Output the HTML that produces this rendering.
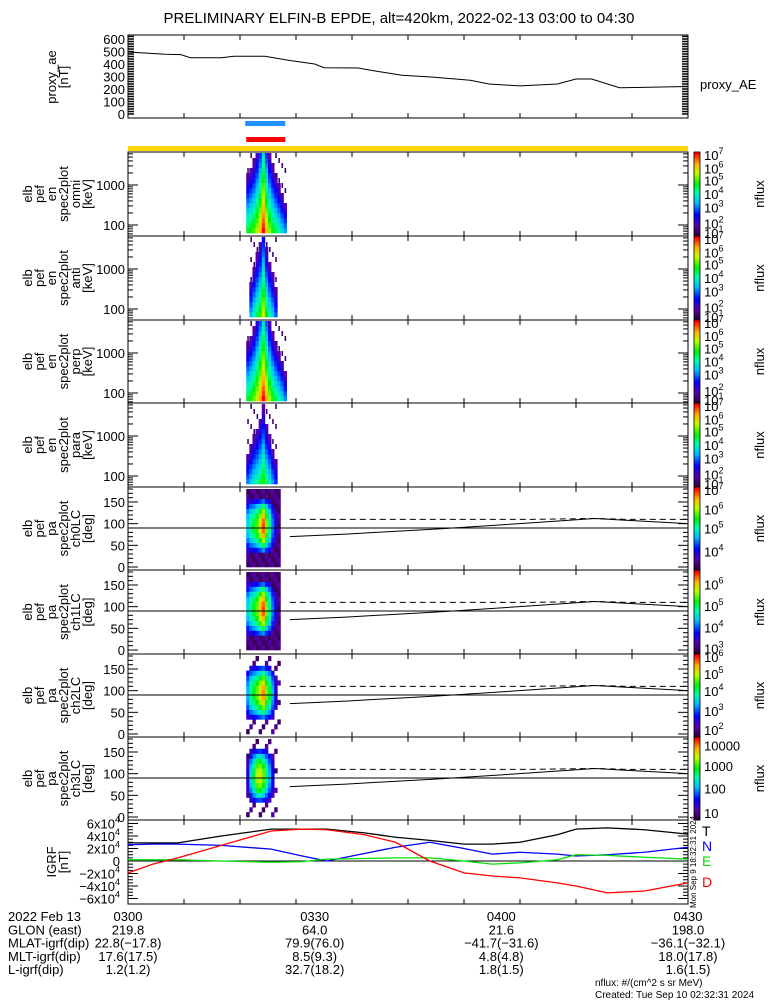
<!DOCTYPE html>
<html><head><meta charset="utf-8">
<style>
html,body{margin:0;padding:0;background:#fff;}
svg{display:block;font-family:"Liberation Sans",sans-serif;}
text{fill:#000;}
</style></head>
<body>
<svg id="chart" width="775" height="1000" viewBox="0 0 775 1000" xmlns="http://www.w3.org/2000/svg">
<rect x="0" y="0" width="775" height="1000" fill="#fff"/>
<text x="399" y="23" font-size="15" text-anchor="middle">PRELIMINARY ELFIN-B EPDE, alt=420km, 2022-02-13 03:00 to 04:30</text>
<g id="g"></g>
</svg>
<script>
// ---- data ----
const aeMinutes = [0, 2, 6, 8.5, 10, 15, 17, 22, 24, 26, 30, 31.5, 37, 39, 44, 49, 55, 58, 63, 69, 72, 74.5, 79, 90];
const aeValues  = [495, 490, 478, 475, 450, 450, 462, 462, 445, 428, 400, 370, 368, 350, 310, 295, 270, 240, 225, 240, 280, 280, 210, 220];
const aeTicks = [0, 100, 200, 300, 400, 500, 600];
const timeLabels = ["0300", "0330", "0400", "0430"];
const timeLabelMinutes = [0, 30, 60, 90];
const igrfMinutes = [0, 4, 8, 15, 23, 28, 32, 38, 43, 48.5, 54, 58.5, 63, 69, 72, 77, 83, 90];
const igrfT = [29, 29, 29, 40, 51, 51, 51, 45, 38, 33, 27, 27, 30, 42, 51, 53, 50, 43];
const igrfD = [-19, -5, 5, 25, 48, 51, 50, 42, 30, 0, -19, -24, -27, -35, -40, -51, -48, -35];
const igrfN = [26, 27, 27, 25, 19, 8, 0, 12, 22, 30, 20, 11, 14, 11, 8, 10, 14, 22];
const igrfE = [2, 2, 2, 0, -2, -1, 3, 4, 5, 5, 0, -5, -3, 2, 10, 9, 6, 3];
const igrfTicks = [-6, -4, -2, 0, 2, 4, 6];
const specStart = 19.0;   // minutes after 0300
const specStep = 0.5;
const omniPeak = [0.6, 0.64, 0.68, 0.75, 0.85, 1.0, 0.85, 0.72, 0.64, 0.58, 0.52, 0.45, 0.38];
const antiPeak = [0.0, 0.4, 0.5, 0.58, 0.65, 0.78, 0.62, 0.52, 0.44, 0.32, 0.0, 0.0, 0.0];
const perpPeak = [0.6, 0.64, 0.7, 0.78, 0.88, 1.0, 0.88, 0.74, 0.65, 0.58, 0.52, 0.46, 0.36];
const paraPeak = [0.35, 0.42, 0.48, 0.52, 0.58, 0.65, 0.55, 0.48, 0.38, 0.28, 0.0, 0.0, 0.0];
const ch0Peak = [0.45, 0.55, 0.6, 0.68, 0.8, 0.95, 0.72, 0.55, 0.35, 0.2, 0.1, 0.0, 0.0];
const ch1Peak = [0.45, 0.55, 0.62, 0.7, 0.85, 0.95, 0.72, 0.55, 0.35, 0.2, 0.1, 0.0, 0.0];
const ch2Peak = [0.4, 0.55, 0.62, 0.7, 0.8, 0.9, 0.72, 0.6, 0.4, 0.2, 0.05, 0.0, 0.0];
const ch3Peak = [0.2, 0.45, 0.6, 0.75, 0.8, 0.7, 0.55, 0.4, 0.25, 0.1, 0.0, 0.0, 0.0];
const lossConeMinutes = [26, 35, 50, 65, 75, 80, 90];
const lossConeUpper = [110, 110, 110, 110, 112, 110, 110];
const lossConeLower = [70, 76, 88, 102, 112, 108, 100];

const NS = "http://www.w3.org/2000/svg";
const G = document.getElementById("g");
const X0 = 128, X1 = 688;
function xs(m){ return X0 + m * (X1 - X0) / 90; }
function mk(tag, attrs, parent){
  const e = document.createElementNS(NS, tag);
  for (const k in attrs) e.setAttribute(k, attrs[k]);
  (parent || G).appendChild(e);
  return e;
}
function txt(x, y, s, size, anchor, parent){
  const t = mk("text", {x:x, y:y, "font-size":size||13, "text-anchor":anchor||"start"}, parent);
  t.textContent = s;
  return t;
}
const stops = [[0,[40,0,60]],[0.12,[90,0,170]],[0.25,[0,0,255]],[0.4,[0,190,255]],[0.52,[0,255,170]],[0.63,[0,240,0]],[0.76,[190,255,0]],[0.87,[255,180,0]],[1,[255,0,0]]];
function cmap(v){
  v = Math.max(0, Math.min(1, v));
  for (let i = 1; i < stops.length; i++){
    if (v <= stops[i][0]){
      const a = stops[i-1], b = stops[i], f = (v - a[0]) / (b[0] - a[0]);
      const c = a[1].map((q, j) => Math.round(q + (b[1][j] - q) * f));
      return "rgb(" + c.join(",") + ")";
    }
  }
  return "rgb(255,0,0)";
}
function xTicks(top, bot){
  for (let x = X0 + 56; x < X1; x += 56){
    mk("line", {x1:x, x2:x, y1:bot, y2:bot-5, stroke:"#000"});
    mk("line", {x1:x, x2:x, y1:top, y2:top+5, stroke:"#000"});
  }
}
function leftLabel(lines, cy, name){
  const gl = mk("g", {});
  
  
  const n = lines.length;
  lines.forEach((s, i) => {
    const x = 32 + i * 12 - (n - 6) * 6;
    const t = mk("text", {x:0, y:0, "font-size":13, "text-anchor":"middle", transform:"translate(" + x + "," + cy + ") rotate(-90)"}, gl);
    t.textContent = s;
  });
}
function colorbar(top, bot, labels, name){
  const gc = mk("g", {});
  
  
  const n = 40;
  for (let i = 0; i < n; i++){
    const y = bot - (i + 1) * (bot - top) / n;
    mk("rect", {x:694, y:y, width:6, height:(bot-top)/n + 0.5, fill:cmap(i/(n-1))}, gc);
  }
  mk("rect", {x:694, y:top, width:6, height:bot-top, fill:"none", stroke:"#000", "stroke-width":0.8}, gc);
  labels.forEach((l) => {
    const y = bot - 3 - l[1] * (bot - top - 6);
    const t = txt(704, y + 5, l[0], 13, "start", gc);
    if (l[2]) { const s = mk("tspan", {dy:-6, "font-size":9}, t); s.textContent = l[2]; }
  });
  const t = mk("text", {x:0, y:0, "font-size":13, "text-anchor":"middle", transform:"translate(764," + ((top+bot)/2) + ") rotate(-90)"}, gc);
  t.textContent = "nflux";
}

// ---- proxy AE panel ----
(function(){
  const top = 35, bot = 118;
  const ys = v => bot - 4 - v * 0.125;
  const gp = mk("g", {});
  
  
  mk("rect", {x:X0, y:top, width:X1-X0, height:bot-top, fill:"none", stroke:"#000"}, gp);
  for (let v = 0; v <= 640; v += 20){ const y = ys(v); if (y > top) { mk("line", {x1:X0, x2:X0+6, y1:y, y2:y, stroke:"#000", "stroke-width":1.5}, gp); mk("line", {x1:X1, x2:X1-6, y1:y, y2:y, stroke:"#000", "stroke-width":1.5}, gp);} }
  aeTicks.forEach(v => txt(X0 - 3, ys(v) + 5, String(v), 13, "end", gp));
  xTicks(top, bot);
  const pts = aeMinutes.map((m, i) => xs(m) + "," + ys(aeValues[i])).join(" ");
  const pl = mk("polyline", {points:pts, fill:"none", stroke:"#000"}, gp);
  
  
  txt(700, 89, "proxy_AE", 13, "start", gp);
  leftLabel(["proxy_ae", "[nT]"], 77, "proxy-ae-axis-title");
})();
// event bars
(function(){
  const b = mk("rect", {x:xs(specStart)-1, y:121, width:40, height:5, fill:"#1e90ff"});
   
  const r = mk("rect", {x:xs(specStart), y:137, width:39, height:5, fill:"#ff0000"});
   
  const y = mk("rect", {x:X0, y:146, width:X1-X0, height:5, fill:"#ffd700"});
   
})();

// ---- energy spectrogram panels ----
const ePanels = [
  {top:152, bot:236, peaks:omniPeak, decay:0.036, sub:"omni", name:"omni"},
  {top:236, bot:320, peaks:antiPeak, decay:0.036, sub:"anti", name:"anti"},
  {top:320, bot:403, peaks:perpPeak, decay:0.036, sub:"perp", name:"perp"},
  {top:403, bot:487, peaks:paraPeak, decay:0.036, sub:"para", name:"para"}
];
ePanels.forEach((p) => {
  const gp = mk("g", {});
  
  
  const ylog = L => p.top + 33 + (3 - L) * 40;
  const nb = 16, lo = 1.8, hi = 3.8, bh = (hi - lo) / nb;
  p.peaks.forEach((pk, c) => {
    const x = xs(specStart + c * specStep);
    const w = xs(specStart + (c + 1) * specStep) - x;
    for (let b = 0; b < nb; b++){
      const v = pk - p.decay * b * (1 + Math.abs(c - 5) * 0.05);
      const y1 = ylog(lo + (b + 1) * bh), y2 = ylog(lo + b * bh);
      if (pk > 0 && v > 0.1) {
        mk("rect", {x:x, y:y1, width:w+0.3, height:y2-y1+0.3, fill:cmap(v)}, gp);
      } else if (pk > 0 && (c * 7 + b * 3) % 4 === 0) {
        mk("rect", {x:x + w/3, y:y1, width:w/2, height:y2-y1, fill:cmap(0.05)}, gp);
      }
    }
  });
  mk("rect", {x:X0, y:p.top, width:X1-X0, height:p.bot-p.top, fill:"none", stroke:"#000"}, gp);
  for (let d = 1; d <= 3; d++){
    for (let k = 1; k <= 9; k++){
      const y = ylog(d + Math.log10(k));
      if (y < p.top || y > p.bot) continue;
      const len = k === 1 ? 10 : 5;
      mk("line", {x1:X0, x2:X0+len, y1:y, y2:y, stroke:"#000"}, gp);
      mk("line", {x1:X1, x2:X1-len, y1:y, y2:y, stroke:"#000"}, gp);
    }
  }
  txt(X0 - 3, ylog(3) + 5, "1000", 13, "end", gp);
  txt(X0 - 3, ylog(2) + 5, "100", 13, "end", gp);
  xTicks(p.top, p.bot);
  leftLabel(["elb", "pef", "en", "spec2plot", p.sub, "[keV]"], (p.top + p.bot) / 2, "energy-axis-title-" + p.name);
  colorbar(p.top, p.bot, [["10",1,"7"],["10",0.83,"6"],["10",0.67,"5"],["10",0.5,"4"],["10",0.33,"3"],["10",0.12,"2"],["10",0.0,"1"]], "colorbar-" + p.name);
});

// ---- pitch-angle panels ----
const pPanels = [
  {top:487, bot:570, peaks:ch0Peak, floor:true, name:"ch0LC", cb:[["10",1,"7"],["10",0.75,"6"],["10",0.5,"5"],["10",0.2,"4"]]},
  {top:570, bot:654, peaks:ch1Peak, floor:true, name:"ch1LC", cb:[["10",0.85,"6"],["10",0.58,"5"],["10",0.3,"4"],["10",0.03,"3"]]},
  {top:654, bot:737, peaks:ch2Peak, floor:false, name:"ch2LC", cb:[["10",1,"6"],["10",0.78,"5"],["10",0.56,"4"],["10",0.3,"3"],["10",0.05,"2"]]},
  {top:737, bot:820, peaks:ch3Peak, floor:false, name:"ch3LC", cb:[["10000",0.93],["1000",0.66],["100",0.37],["10",0.05]]}
];
pPanels.forEach((p) => {
  const gp = mk("g", {});
  
  
  const ypa = a => p.top + 2 + (180 - a) / 180 * 78;
  const nb = 16, bw = 180 / nb;
  p.peaks.forEach((pk, c) => {
    const x = xs(specStart + c * specStep);
    const w = xs(specStart + (c + 1) * specStep) - x;
    for (let b = 0; b < nb; b++){
      const a = (b + 0.5) * bw;
      const d = Math.abs(a - 95) / 90;
      const v = pk * (1 - d * d * 1.6) ;
      const y1 = ypa((b + 1) * bw), y2 = ypa(b * bw);
      if (pk > 0 && v > 0.15) mk("rect", {x:x, y:y1, width:w+0.3, height:y2-y1+0.3, fill:cmap(v)}, gp);
      else if (pk > 0 && (p.floor || (c * 5 + b * 3) % 4 === 0)) mk("rect", {x:x, y:y1, width:w+0.3, height:y2-y1+0.3, fill:cmap(0.03 + ((c + b) % 3) * 0.04)}, gp);
    }
  });
  mk("rect", {x:X0, y:p.top, width:X1-X0, height:p.bot-p.top, fill:"none", stroke:"#000"}, gp);
  for (let a = 0; a <= 180; a += 10){
    const y = ypa(a); const len = a % 50 === 0 ? 10 : 5;
    mk("line", {x1:X0, x2:X0+len, y1:y, y2:y, stroke:"#000"}, gp);
    mk("line", {x1:X1, x2:X1-len, y1:y, y2:y, stroke:"#000"}, gp);
  }
  [0, 50, 100, 150].forEach(a => txt(X0 - 3, ypa(a) + 5, String(a), 13, "end", gp));
  xTicks(p.top, p.bot);
  mk("line", {x1:X0, x2:X1, y1:ypa(90), y2:ypa(90), stroke:"#000"}, gp);
  const up = lossConeMinutes.map((m, i) => xs(m) + "," + ypa(lossConeUpper[i])).join(" ");
  const lo = lossConeMinutes.map((m, i) => xs(m) + "," + ypa(lossConeLower[i])).join(" ");
  const u = mk("polyline", {points:up, fill:"none", stroke:"#000", "stroke-dasharray":"6,4"}, gp);
   
  const l = mk("polyline", {points:lo, fill:"none", stroke:"#000"}, gp);
   
  leftLabel(["elb", "pef", "pa", "spec2plot", p.name, "[deg]"], (p.top + p.bot) / 2, "pitch-angle-axis-title-" + p.name);
  colorbar(p.top, p.bot, p.cb, "colorbar-" + p.name);
});

// ---- IGRF panel ----
(function(){
  const top = 820, bot = 904;
  const ys = v => 861 - v * 0.625;
  const gp = mk("g", {});
  
  
  mk("rect", {x:X0, y:top, width:X1-X0, height:bot-top, fill:"none", stroke:"#000"}, gp);
  mk("line", {x1:X0, x2:X1, y1:ys(0), y2:ys(0), stroke:"#000"}, gp);
  for (let v = -60; v <= 60; v += 5){ const y = ys(v); const len = v % 20 === 0 ? 10 : 5;
    mk("line", {x1:X0, x2:X0+len, y1:y, y2:y, stroke:"#000"}, gp); mk("line", {x1:X1, x2:X1-len, y1:y, y2:y, stroke:"#000"}, gp); }
  igrfTicks.forEach(v => {
    const t = txt(X0 - 8, ys(v * 10) + 5, v === 0 ? "0" : (v < 0 ? "\u2212" : "") + Math.abs(v) + "x10", 13, "end", gp);
    if (v !== 0) { const s = mk("tspan", {dy:-6, "font-size":9}, t); s.textContent = "4"; }
  });
  xTicks(top, bot);
  [[igrfT, "#000", "T", 844],[igrfN, "#0000ff", "N", 859],[igrfE, "#00e000", "E", 874],[igrfD, "#ff0000", "D", 895]].forEach(s => {
    const pts = igrfMinutes.map((m, i) => xs(m) + "," + ys(s[0][i])).join(" ");
    const pl = mk("polyline", {points:pts, fill:"none", stroke:s[1], "stroke-width":1.3}, gp);
    
    
    const t = txt(702, s[3] - 8, s[2], 14, "start", gp); t.setAttribute("fill", s[1]); t.style.fill = s[1];
  });
  const v = mk("text", {x:0, y:0, "font-size":8, "text-anchor":"middle", transform:"translate(696,862) rotate(-90)"}, gp);
  v.textContent = "Mon Sep  9 18:32:31 2024";
  leftLabel(["IGRF", "[nT]"], 862, "igrf-axis-title");
})();

// ---- bottom annotation ----
(function(){
  const gb = mk("g", {});
  
  
  const rows = [
    ["2022 Feb 13", timeLabels],
    ["GLON (east)", ["219.8", "64.0", "21.6", "198.0"]],
    ["MLAT-igrf(dip)", ["22.8(\u221217.8)", "79.9(76.0)", "\u221241.7(\u221231.6)", "\u221236.1(\u221232.1)"]],
    ["MLT-igrf(dip)", ["17.6(17.5)", "8.5(9.3)", "4.8(4.8)", "18.0(17.8)"]],
    ["L-igrf(dip)", ["1.2(1.2)", "32.7(18.2)", "1.8(1.5)", "1.6(1.5)"]]
  ];
  rows.forEach((r, i) => {
    const y = 921 + i * 13.3;
    txt(8, y, r[0], 13, "start", gb);
    r[1].forEach((s, j) => txt(xs(timeLabelMinutes[j]), y, s, 13, "middle", gb));
  });
  txt(595, 986, "nflux: #/(cm^2 s sr MeV)", 10, "start", gb);
  txt(595, 998, "Created: Tue Sep 10 02:32:31 2024", 10, "start", gb);
})();
</script>
</body></html>
